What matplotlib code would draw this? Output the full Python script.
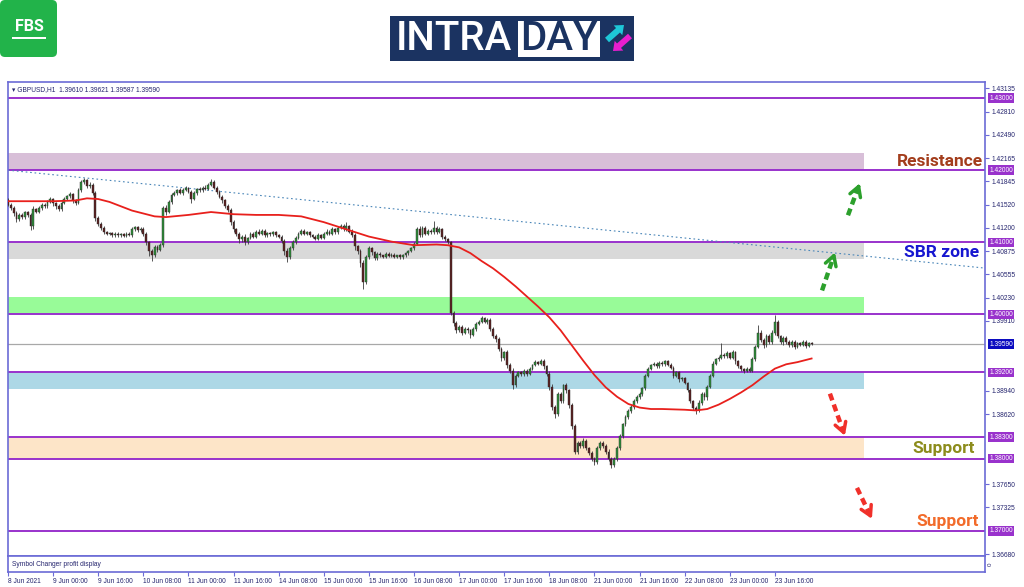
import numpy as np
import matplotlib.pyplot as plt
import matplotlib.transforms as mtransforms
from matplotlib.patches import Rectangle, FancyBboxPatch, FancyArrow

plt.rcParams['font.family'] = ['Liberation Sans', 'DejaVu Sans']

# GBPUSD H1 closes, bar 0 = 8 Jun 08:00 ... bar 285 = 24 Jun 05:00
close = [
    1.4152, 1.4148, 1.4140, 1.4132, 1.4138, 1.4135, 1.4142, 1.4138, 1.4122, 1.4146,
    1.4142, 1.4148, 1.4152, 1.4150, 1.4156, 1.4160, 1.4154, 1.4150, 1.4146, 1.4155,
    1.4160, 1.4164, 1.4167, 1.4158, 1.4155, 1.4172, 1.4183, 1.4186, 1.4178, 1.4180,
    1.4168, 1.4134, 1.4126, 1.4120, 1.4114, 1.4112, 1.4113, 1.4110, 1.4112, 1.4110,
    1.4111, 1.4109, 1.4112, 1.4110, 1.4118, 1.4121, 1.4117, 1.4119, 1.4112, 1.4100,
    1.4088, 1.4082, 1.4094, 1.4090, 1.4096, 1.4148, 1.4142, 1.4156, 1.4166, 1.4168,
    1.4172, 1.4169, 1.4173, 1.4175, 1.4170, 1.4160, 1.4168, 1.4174, 1.4172, 1.4176,
    1.4174, 1.4180, 1.4184, 1.4176, 1.4170, 1.4163, 1.4158, 1.4150, 1.4145, 1.4128,
    1.4118, 1.4112, 1.4104, 1.4108, 1.4100, 1.4106, 1.4112, 1.4108, 1.4115, 1.4112,
    1.4116, 1.4110, 1.4113, 1.4111, 1.4114, 1.4110, 1.4108, 1.4102, 1.4088, 1.4080,
    1.4092, 1.4100, 1.4106, 1.4112, 1.4116, 1.4112, 1.4114, 1.4110, 1.4108, 1.4105,
    1.4110, 1.4106, 1.4112, 1.4115, 1.4112, 1.4118, 1.4114, 1.4120, 1.4123, 1.4118,
    1.4122, 1.4115, 1.4110, 1.4095, 1.4088, 1.4072, 1.4045, 1.4080, 1.4092, 1.4086,
    1.4078, 1.4084, 1.4082, 1.4080, 1.4084, 1.4081, 1.4083, 1.4080, 1.4082, 1.4079,
    1.4082, 1.4085, 1.4088, 1.4092, 1.4098, 1.4118, 1.4110, 1.4120, 1.4112, 1.4116,
    1.4114, 1.4120, 1.4115, 1.4118, 1.4108, 1.4104, 1.4100, 1.4002, 1.3988, 1.3978,
    1.3983, 1.3975, 1.3980, 1.3978, 1.3972, 1.3980, 1.3987, 1.3990, 1.3995, 1.3990,
    1.3993, 1.3980, 1.3970, 1.3966, 1.3952, 1.3940, 1.3948, 1.3930, 1.3922, 1.3902,
    1.3915, 1.3920, 1.3917, 1.3922, 1.3918, 1.3925, 1.3930, 1.3934, 1.3932, 1.3936,
    1.3928, 1.3918, 1.3900, 1.3872, 1.3862, 1.3890, 1.3880, 1.3902, 1.3895, 1.3875,
    1.3845, 1.3810, 1.3822, 1.3818, 1.3825, 1.3815, 1.3808, 1.3800, 1.3796, 1.3815,
    1.3822, 1.3818, 1.3810, 1.3800, 1.3792, 1.3800, 1.3815, 1.3832, 1.3848, 1.3858,
    1.3866, 1.3872, 1.3880, 1.3886, 1.3890, 1.3898, 1.3915, 1.3925, 1.3930, 1.3932,
    1.3928, 1.3933, 1.3931, 1.3935, 1.3930, 1.3926, 1.3915, 1.3920, 1.3910, 1.3912,
    1.3905, 1.3895, 1.3880, 1.3870, 1.3868, 1.3878, 1.3890, 1.3885, 1.3900, 1.3915,
    1.3932, 1.3938, 1.3940, 1.3944, 1.3942, 1.3946, 1.3940, 1.3948, 1.3935, 1.3928,
    1.3924, 1.3922, 1.3925, 1.3922, 1.3938, 1.3955, 1.3975, 1.3965, 1.3958, 1.3970,
    1.3962, 1.3975, 1.3990, 1.3970, 1.3962, 1.3968, 1.3962, 1.3958, 1.3962, 1.3955,
    1.3960, 1.3958, 1.3962, 1.3957, 1.3961, 1.3959,
]
open_first = 1.4158

# wick lengths in pips above / below the body
wick_up = [
    3, 2, 2, 3, 2, 3, 2, 2, 3, 4, 2, 3, 2, 3, 2, 3, 2, 2, 3, 2,
    3, 2, 3, 2, 2, 3, 3, 3, 2, 4, 2, 3, 2, 2, 2, 2, 2, 1, 2, 2,
    2, 2, 2, 2, 3, 2, 2, 2, 2, 2, 2, 3, 3, 2, 3, 3, 4, 3, 2, 3,
    2, 3, 2, 3, 2, 2, 3, 2, 3, 2, 3, 2, 4, 3, 2, 2, 3, 2, 3, 2,
    3, 2, 3, 2, 4, 2, 3, 2, 2, 3, 2, 2, 2, 2, 2, 2, 2, 2, 3, 4,
    3, 3, 3, 2, 3, 2, 2, 2, 2, 2, 3, 2, 2, 3, 2, 3, 2, 3, 2, 2,
    6, 2, 3, 3, 2, 3, 4, 3, 3, 2, 2, 2, 2, 1, 2, 2, 2, 2, 1, 2,
    2, 2, 2, 2, 3, 3, 4, 3, 2, 3, 2, 10, 3, 3, 2, 2, 2, 2, 3, 3,
    3, 2, 3, 3, 2, 3, 2, 3, 3, 2, 2, 2, 3, 3, 3, 3, 2, 3, 3, 4,
    3, 2, 2, 2, 2, 2, 2, 3, 2, 3, 2, 2, 3, 4, 3, 3, 3, 2, 3, 2,
    3, 3, 3, 3, 4, 3, 2, 3, 3, 3, 3, 2, 3, 3, 3, 3, 3, 3, 2, 3,
    3, 2, 3, 2, 3, 2, 3, 2, 2, 2, 2, 2, 2, 2, 2, 3, 2, 2, 2, 2,
    2, 2, 3, 2, 3, 3, 3, 3, 2, 3, 3, 2, 2, 17, 2, 3, 2, 3, 2, 2,
    2, 2, 2, 2, 3, 3, 10, 3, 3, 3, 3, 3, 9, 3, 2, 2, 2, 2, 2, 2,
    2, 2, 2, 2, 1, 1,
]
wick_dn = [
    2, 3, 3, 4, 2, 3, 2, 3, 5, 3, 2, 2, 3, 2, 2, 2, 3, 4, 3, 2,
    2, 2, 2, 3, 3, 2, 2, 2, 3, 2, 3, 4, 3, 3, 3, 2, 2, 2, 2, 2,
    2, 2, 2, 1, 2, 2, 2, 2, 3, 4, 7, 8, 3, 3, 2, 3, 4, 2, 3, 2,
    2, 2, 3, 2, 2, 5, 2, 2, 2, 2, 2, 2, 2, 2, 3, 2, 3, 2, 3, 4,
    3, 3, 5, 3, 3, 2, 2, 2, 2, 2, 2, 2, 2, 2, 2, 2, 2, 3, 5, 7,
    3, 2, 2, 2, 2, 2, 2, 2, 2, 2, 2, 2, 2, 2, 2, 2, 2, 2, 2, 2,
    2, 2, 3, 5, 4, 6, 10, 3, 3, 3, 3, 2, 2, 2, 2, 2, 2, 2, 2, 2,
    2, 2, 2, 2, 2, 2, 3, 2, 2, 2, 2, 3, 3, 2, 3, 2, 2, 3, 4, 3,
    2, 3, 2, 3, 4, 2, 3, 2, 2, 2, 3, 3, 3, 4, 3, 4, 3, 4, 3, 5,
    3, 2, 2, 2, 3, 2, 2, 2, 2, 2, 3, 3, 4, 5, 6, 3, 3, 3, 4, 4,
    4, 4, 3, 3, 3, 3, 3, 3, 4, 3, 3, 3, 3, 3, 5, 3, 3, 3, 3, 3,
    3, 3, 3, 3, 3, 3, 3, 2, 2, 2, 2, 2, 2, 2, 2, 2, 3, 2, 3, 2,
    2, 3, 3, 3, 6, 3, 3, 3, 3, 2, 2, 2, 2, 2, 2, 2, 2, 2, 3, 2,
    2, 3, 2, 2, 2, 2, 2, 3, 4, 3, 3, 3, 3, 3, 3, 4, 3, 3, 3, 3,
    2, 2, 2, 3, 2, 1,
]

# red moving average
ma_bar = [0, 8, 16, 24, 28, 32, 36, 40, 44, 48, 52, 56, 64, 72, 80, 88, 96, 104,
          112, 120, 128, 136, 144, 152, 156, 160, 164, 168, 172, 176, 180, 184, 188,
          192, 196, 200, 204, 208, 212, 216, 220, 224, 228, 232, 240, 244, 248, 252,
          256, 260, 264, 268, 272, 276, 280, 285]
ma_val = [1.4157, 1.4157, 1.4157, 1.4158, 1.4161, 1.4160, 1.4156, 1.4150, 1.4144,
          1.4140, 1.4136, 1.4135, 1.4138, 1.4142, 1.4139, 1.4138, 1.4138, 1.4136,
          1.4128, 1.4118, 1.4108, 1.4101, 1.4096, 1.4097, 1.4096, 1.4093, 1.4085,
          1.4074, 1.4064, 1.4052, 1.4039, 1.4025, 1.4011, 1.3996, 1.3978, 1.3957,
          1.3936, 1.3916, 1.3899, 1.3886, 1.3876, 1.3871, 1.3869, 1.3869, 1.3868,
          1.3867, 1.3869, 1.3875, 1.3883, 1.3892, 1.3902, 1.3914, 1.3925, 1.3931,
          1.3934, 1.3939]

levels = [1.43, 1.42, 1.41, 1.40, 1.392, 1.383, 1.38, 1.37]
zone_lo = [1.4200, 1.40764, 1.4000, 1.38964, 1.3800]
zone_hi = [1.42236, 1.4100, 1.40236, 1.3920, 1.3830]
zone_col = ['#d8bfd8', '#d9d9d9', '#98fb98', '#add8e6', '#fde5c8']
zone_end = 303.5

last_price = 1.3959
trend_x = [0, 346.5]
trend_y = [1.4200, 1.40643]

tick_vals = [1.43135, 1.42810, 1.42490, 1.42165, 1.41845, 1.41520, 1.41200, 1.40875,
             1.40555, 1.40230, 1.39910, 1.38940, 1.38620, 1.37650, 1.37325, 1.36680]
x_labels = ['8 Jun 2021', '9 Jun 00:00', '9 Jun 16:00', '10 Jun 08:00', '11 Jun 00:00',
            '11 Jun 16:00', '14 Jun 08:00', '15 Jun 00:00', '15 Jun 16:00',
            '16 Jun 08:00', '17 Jun 00:00', '17 Jun 16:00', '18 Jun 08:00',
            '21 Jun 00:00', '21 Jun 16:00', '22 Jun 08:00', '23 Jun 00:00', '23 Jun 16:00']
x_label_pos = list(range(0, 273, 16))

# arrows (start bar, start price, tip bar, tip price)
arrows = [(288.7, 1.40333, 293.3, 1.40861, '#2ca02c'),
          (297.9, 1.41375, 302.1, 1.41819, '#2ca02c'),
          (291.5, 1.38903, 296.8, 1.38319, '#f0302a'),
          (301.1, 1.37597, 306.4, 1.37167, '#f0302a')]

labels = [('Resistance', 1.42125, '#a33d1c'),
          ('SBR zone', 1.40861, '#1717d0'),
          ('Support', 1.38139, '#8c8c1c'),
          ('Support', 1.37125, '#f26b2a')]
label_right = [983, 979, 975, 979]

W, H = 1024, 587
frame = '#6b6bd6'
purple = '#9932cc'
navy = '#25256e'

fig = plt.figure(figsize=(W / 100, H / 100), dpi=100)

# logos
lax = fig.add_axes([0, 0, 1, 1])
lax.set_xlim(0, W)
lax.set_ylim(H, 0)
lax.axis('off')
lax.add_patch(FancyBboxPatch((0, 0), 57, 57, boxstyle='round,pad=0,rounding_size=5',
                             fc='#22b34a', ec='none'))
lax.text(29, 26.5, 'FBS', color='white', fontsize=11.5, fontweight='bold',
         ha='center', va='center', family='Roboto')
lax.add_patch(Rectangle((12, 36.5), 34, 2.5, fc='white', ec='none'))
lax.add_patch(Rectangle((390, 16), 244, 45, fc='#1b3361', ec='none'))
lax.text(396, 39.5, 'INTRA', color='white', fontsize=29, ha='left', va='center',
         family='Roboto', fontweight='medium')
lax.add_patch(Rectangle((518, 21), 82, 36, fc='white', ec='none'))
lax.text(559, 39.5, 'DAY', color='#1b3361', fontsize=29, ha='center', va='center',
         family='Roboto', fontweight='medium')
lax.add_patch(FancyArrow(607, 40, 17, -15, width=6, head_width=13, head_length=8,
                         length_includes_head=True, fc='#1ec8d8', ec='none'))
lax.add_patch(FancyArrow(630, 36, -17, 15, width=6, head_width=13, head_length=8,
                         length_includes_head=True, fc='#e81ecf', ec='none'))

def fy(py):
    return 1 - py / H

ax = fig.add_axes([8 / W, fy(556), 977 / W, (556 - 82) / H])
axb = fig.add_axes([8 / W, fy(572), 977 / W, 16 / H], sharex=ax)

ax.set_xlim(0, 346.5)
ax.set_ylim(1.366528, 1.432222)

for lo_, hi_, col in zip(zone_lo, zone_hi, zone_col):
    ax.add_patch(Rectangle((0, lo_), zone_end, hi_ - lo_, fc=col, ec='none', zorder=0.5))
for lv in levels:
    ax.axhline(lv, color=purple, lw=1.4, zorder=1)
ax.axhline(last_price, color='#a8a8a8', lw=0.9, zorder=1)
ax.plot(trend_x, trend_y, color='#4a86b8', lw=0.8, ls=(0, (1.5, 2.5)), zorder=2)

# candles
c = np.array(close)
o = np.r_[open_first, c[:-1]]
xs = np.arange(len(c))
top = np.maximum(o, c)
bot = np.minimum(o, c)
hi = top + np.array(wick_up) * 1e-4
lo = bot - np.array(wick_dn) * 1e-4
up = c >= o
ax.vlines(xs, lo, hi, color='#3a3a3a', lw=0.6, zorder=3)
hgt = np.maximum(top - bot, 0.00004)
ax.bar(xs[up], hgt[up], bottom=bot[up], width=0.65, color='#2f8f3a',
       edgecolor='#2a2a2a', lw=0.3, zorder=4)
ax.bar(xs[~up], hgt[~up], bottom=bot[~up], width=0.65, color='#5c2020',
       edgecolor='#2a2a2a', lw=0.3, zorder=4)

ax.plot(ma_bar, ma_val, color='#e8201c', lw=1.3, zorder=5, solid_joinstyle='round')

for x0, y0, x1, y1, col in arrows:
    ax.plot([x0, x0 + 0.85 * (x1 - x0)], [y0, y0 + 0.85 * (y1 - y0)], color=col,
            lw=3.2, ls=(0, (1.6, 1.0)), solid_capstyle='butt', zorder=6)
    ax.annotate('', xy=(x1, y1), xytext=(x1 - 0.15 * (x1 - x0), y1 - 0.15 * (y1 - y0)),
                arrowprops=dict(arrowstyle='->,head_length=0.7,head_width=0.4',
                                color=col, lw=2.5, shrinkA=0, shrinkB=0), zorder=6)

bt = mtransforms.blended_transform_factory(fig.transFigure, ax.transData)
for (txt, yv, col), xr in zip(labels, label_right):
    ax.text(xr / W, yv, txt, transform=bt, ha='right', va='center', color=col,
            fontsize=12.5, fontweight='bold', family='Roboto', zorder=7)

ax.text(0.004, 0.985, '\u25be GBPUSD,H1  1.39610 1.39621 1.39587 1.39590',
        transform=ax.transAxes, fontsize=4.8, color=navy, va='center', ha='left')

# price scale
ax.yaxis.tick_right()
ax.set_yticks(tick_vals, [f'{v:.5f}' for v in tick_vals])
ax.tick_params(axis='y', labelsize=4.8, labelcolor=navy, color=frame, length=3,
               width=0.8, pad=1.5)
ax.tick_params(axis='x', bottom=False, labelbottom=False)
rt = mtransforms.blended_transform_factory(ax.transAxes, ax.transData)
for lv in levels:
    ax.text(1.0045, lv, f'{lv:.5f}', transform=rt, fontsize=4.8, color='white',
            va='center', ha='left', clip_on=False, zorder=10,
            bbox=dict(boxstyle='square,pad=0.18', fc=purple, ec='none'))
ax.text(1.0045, last_price, f'{last_price:.5f}', transform=rt, fontsize=4.8,
        color='white', va='center', ha='left', clip_on=False, zorder=10,
        bbox=dict(boxstyle='square,pad=0.18', fc='#0c0cc0', ec='none'))

for a in (ax, axb):
    for sp in a.spines.values():
        sp.set_color(frame)
        sp.set_linewidth(1.2)

axb.set_yticks([])
axb.set_xticks(x_label_pos, x_labels)
axb.tick_params(axis='x', labelsize=4.8, labelcolor=navy, color=frame, length=3,
                width=0.8, pad=1.5)
for t in axb.get_xticklabels():
    t.set_horizontalalignment('left')
axb.text(0.004, 0.5, 'Symbol Changer profit display', transform=axb.transAxes,
         fontsize=4.8, color=navy, va='center', ha='left')
axb.text(1.003, 0.5, '0', transform=axb.transAxes, fontsize=4.5, color=navy,
         rotation=90, va='center', ha='left')

fig.savefig('out.png', dpi=100)
